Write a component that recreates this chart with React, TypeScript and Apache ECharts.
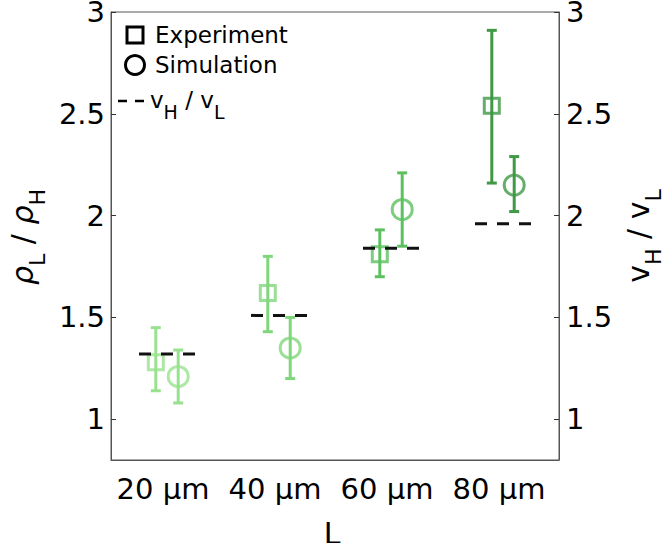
import React, { useEffect, useRef } from "react";
import * as echarts from "echarts";

// Channel lengths (µm) and their category labels
const lengths = [20, 40, 60, 80];
const categories = ["20 μm", "40 μm", "60 μm", "80 μm"];

// Experiment: mean density ratio with lower / upper error bounds
const expMean = [1.28, 1.62, 1.81, 2.54];
const expLow = [1.14, 1.43, 1.7, 2.16];
const expHigh = [1.45, 1.8, 1.93, 2.91];

// Simulation: mean density ratio with lower / upper error bounds
const simMean = [1.21, 1.35, 2.03, 2.15];
const simLow = [1.08, 1.2, 1.85, 2.02];
const simHigh = [1.34, 1.5, 2.21, 2.29];

// Velocity ratio vH / vL for each length (dashed markers)
const velRatio = [1.32, 1.51, 1.84, 1.96];

// One green shade per length, light to dark
const greens = ["#98e28f", "#80d77b", "#5dc05f", "#3f9945"];

const yTicks = [1, 1.5, 2, 2.5, 3];

const FONT = "DejaVu Sans";
const PAIR_OFFSET = 2; // data units between the two markers of a pair
const DASH_HALF = 5; // half-width of the dashed ratio mark, data units

function errorBarRender(params: any, api: any) {
  const x = api.value(0);
  const lo = api.coord([x, api.value(1)]);
  const hi = api.coord([x, api.value(2)]);
  const color = greens[api.value(3)];
  const cap = 5;
  const style = { stroke: color, lineWidth: 3, fill: "none" };
  return {
    type: "group",
    children: [
      { type: "line", shape: { x1: lo[0], y1: lo[1], x2: hi[0], y2: hi[1] }, style },
      { type: "line", shape: { x1: hi[0] - cap, y1: hi[1], x2: hi[0] + cap, y2: hi[1] }, style },
      { type: "line", shape: { x1: lo[0] - cap, y1: lo[1], x2: lo[0] + cap, y2: lo[1] }, style },
    ],
  };
}

function ratioRender(params: any, api: any) {
  const x = api.value(0);
  const v = api.value(1);
  const a = api.coord([x - DASH_HALF, v]);
  const b = api.coord([x + DASH_HALF, v]);
  return {
    type: "line",
    shape: { x1: a[0], y1: a[1], x2: b[0], y2: b[1] },
    style: { stroke: "#111", lineWidth: 3, lineDash: [12, 10] },
  };
}

export default function App() {
  const ref = useRef<HTMLDivElement>(null);

  useEffect(() => {
    if (!ref.current) return;
    const chart = echarts.init(ref.current, null, { renderer: "svg" });

    const expBars = lengths.map((L, i) => [L - PAIR_OFFSET, expLow[i], expHigh[i], i]);
    const simBars = lengths.map((L, i) => [L + PAIR_OFFSET, simLow[i], simHigh[i], i]);
    const expPts = lengths.map((L, i) => ({
      value: [L - PAIR_OFFSET, expMean[i]],
      itemStyle: { borderColor: greens[i] },
    }));
    const simPts = lengths.map((L, i) => ({
      value: [L + PAIR_OFFSET, simMean[i]],
      itemStyle: { borderColor: greens[i] },
    }));
    const ratios = lengths.map((L, i) => [L, velRatio[i]]);

    const axisLine = { show: true, lineStyle: { color: "#555", width: 1 } };
    const yLabel = { fontSize: 29, color: "#000", fontFamily: FONT, customValues: yTicks };
    const yTick = { show: true, inside: true, length: 5, lineStyle: { color: "#333", width: 1 }, customValues: yTicks };

    // subscripts sit low, their tops near the main baseline
    const titleRich = {
      m: { fontSize: 30, fontFamily: FONT, color: "#000", lineHeight: 30 },
      mi: { fontSize: 30, fontFamily: FONT, fontStyle: "italic", color: "#000", lineHeight: 30 },
      s: { fontSize: 22, fontFamily: FONT, color: "#000", lineHeight: 20, padding: [30, 0, 0, 0] },
    };
    const legRich = {
      m: { fontSize: 23, fontFamily: FONT, color: "#000", lineHeight: 24 },
      s: { fontSize: 19, fontFamily: FONT, color: "#000", lineHeight: 18, padding: [24, 0, 0, 0] },
    };

    chart.setOption({
      animation: false,
      backgroundColor: "#fff",
      textStyle: { fontFamily: FONT },
      grid: {
        left: 111,
        right: 107,
        top: 12,
        bottom: 83,
        show: true,
        borderColor: "#555",
        borderWidth: 1,
        outerBoundsMode: "none",
      },
      xAxis: [
        {
          type: "category",
          data: categories,
          boundaryGap: true,
          axisLine,
          axisTick: { show: false },
          axisLabel: {
            fontSize: 29,
            color: "#000",
            fontFamily: FONT,
            margin: 14,
            interval: 0,
            hideOverlap: false,
            padding: [0, 8, 0, 0],
          },
          splitLine: { show: false },
          name: "L",
          nameLocation: "middle",
          nameGap: 58,
          nameTextStyle: { fontSize: 30, color: "#000", fontFamily: FONT, padding: [0, 6, 0, 0] },
        },
        {
          type: "value",
          min: 10,
          max: 90,
          show: false,
          splitLine: { show: false },
        },
      ],
      yAxis: [
        {
          type: "value",
          position: "left",
          min: 0.8,
          max: 3,
          axisLine,
          axisTick: yTick,
          axisLabel: { ...yLabel, margin: 6 },
          splitLine: { show: false },
        },
        {
          type: "value",
          position: "right",
          min: 0.8,
          max: 3,
          axisLine,
          axisTick: yTick,
          axisLabel: { ...yLabel, margin: 7 },
          splitLine: { show: false },
        },
      ],
      series: [
        {
          type: "custom",
          name: "Experiment error",
          xAxisIndex: 1,
          yAxisIndex: 0,
          renderItem: errorBarRender,
          data: expBars,
          z: 2,
        },
        {
          type: "custom",
          name: "Simulation error",
          xAxisIndex: 1,
          yAxisIndex: 0,
          renderItem: errorBarRender,
          data: simBars,
          z: 2,
        },
        {
          type: "scatter",
          name: "Experiment",
          xAxisIndex: 1,
          yAxisIndex: 0,
          symbol: "rect",
          symbolSize: 15,
          itemStyle: { color: "rgba(0,0,0,0)", borderWidth: 3 },
          data: expPts,
          z: 3,
        },
        {
          type: "scatter",
          name: "Simulation",
          xAxisIndex: 1,
          yAxisIndex: 0,
          symbol: "circle",
          symbolSize: 20,
          itemStyle: { color: "rgba(0,0,0,0)", borderWidth: 3 },
          data: simPts,
          z: 3,
        },
        {
          type: "custom",
          name: "vH / vL",
          xAxisIndex: 1,
          yAxisIndex: 1,
          renderItem: ratioRender,
          data: ratios,
          z: 4,
        },
      ],
      graphic: [
        // legend
        {
          type: "rect",
          shape: { x: 127, y: 27, width: 16, height: 16 },
          style: { fill: "none", stroke: "#000", lineWidth: 3 },
          z: 10,
        },
        {
          type: "text",
          x: 155,
          y: 35,
          style: { text: "Experiment", fontSize: 23, fontFamily: FONT, fill: "#000", align: "left", verticalAlign: "middle" },
          z: 10,
        },
        {
          type: "circle",
          shape: { cx: 135, cy: 65, r: 9.5 },
          style: { fill: "none", stroke: "#000", lineWidth: 3 },
          z: 10,
        },
        {
          type: "text",
          x: 155,
          y: 65,
          style: { text: "Simulation", fontSize: 23, fontFamily: FONT, fill: "#000", align: "left", verticalAlign: "middle" },
          z: 10,
        },
        {
          type: "line",
          shape: { x1: 118, y1: 101, x2: 127, y2: 101 },
          style: { stroke: "#000", lineWidth: 2.5 },
          z: 10,
        },
        {
          type: "line",
          shape: { x1: 135, y1: 101, x2: 144, y2: 101 },
          style: { stroke: "#000", lineWidth: 2.5 },
          z: 10,
        },
        {
          type: "text",
          x: 150,
          y: 100,
          style: { text: "{m|v}{s|H}{m| / v}{s|L}", rich: legRich, align: "left", verticalAlign: "middle" },
          z: 10,
        },
        // left axis title
        {
          type: "text",
          x: 22,
          y: 237,
          rotation: Math.PI / 2,
          style: { text: "{mi|ρ}{s|L}{m| / }{mi|ρ}{s|H}", rich: titleRich, align: "center", verticalAlign: "middle" },
          z: 10,
        },
        // right axis title
        {
          type: "text",
          x: 638,
          y: 236,
          rotation: Math.PI / 2,
          style: { text: "{m|v}{s|H}{m| / v}{s|L}", rich: titleRich, align: "center", verticalAlign: "middle" },
          z: 10,
        },
      ],
    });

    return () => chart.dispose();
  }, []);

  return (
    <div
      ref={ref}
      style={{ position: "fixed", left: 0, top: 0, width: 666, height: 543, background: "#fff" }}
    />
  );
}
